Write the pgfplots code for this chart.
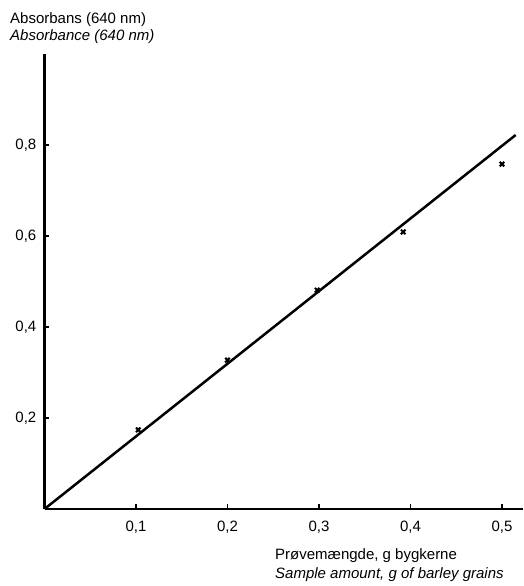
\documentclass[border=0pt]{standalone}
\usepackage{fontspec}
\setmainfont{Liberation Sans}
\usepackage{pgfplots}
\pgfplotsset{compat=1.18}
\begin{document}
\fontsize{15}{18}\selectfont
\begin{tikzpicture}[x=1pt,y=1pt]
\useasboundingbox (0,0) rectangle (523,586);
\begin{axis}[
    at={(44.5pt,77pt)}, anchor=south west,
    scale only axis,
    width=478.5pt, height=455pt,
    xmin=0, xmax=0.523, ymin=0, ymax=1.0,
    axis lines=left,
    axis line style={-, line width=2.4pt},
    xtick={0.1,0.2,0.3,0.4,0.5},
    ytick={0.2,0.4,0.6,0.8},
    tick align=inside,
    major tick length=5pt,
    tick style={line width=1.8pt, black},
    /pgf/number format/use comma,
    /pgf/number format/assume math mode=true,
    ticklabel style={font=\fontsize{15}{18}\selectfont},
    xticklabel style={yshift=-7pt},
    yticklabel style={xshift=-3pt},
    clip=false,
]
% fitted calibration line
\addplot [black, line width=2.5pt] coordinates {(0,0) (0.515,0.822)};
% measured points
\addplot [only marks, mark=x, mark size=3.2pt, mark options={line width=2.1pt}] coordinates {
    (0.1025,0.174)
    (0.200,0.327)
    (0.298,0.481)
    (0.392,0.609)
    (0.500,0.758)
};
\end{axis}
\node[anchor=base west, inner sep=0] at (10,562) {Absorbans (640 nm)};
\node[anchor=base west, inner sep=0] at (10,545) {\itshape Absorbance (640 nm)};
\node[anchor=base west, inner sep=0] at (275,26) {Prøvemængde, g bygkerne};
\node[anchor=base west, inner sep=0] at (275,8) {\itshape Sample amount, g of barley grains};
\end{tikzpicture}
\end{document}
